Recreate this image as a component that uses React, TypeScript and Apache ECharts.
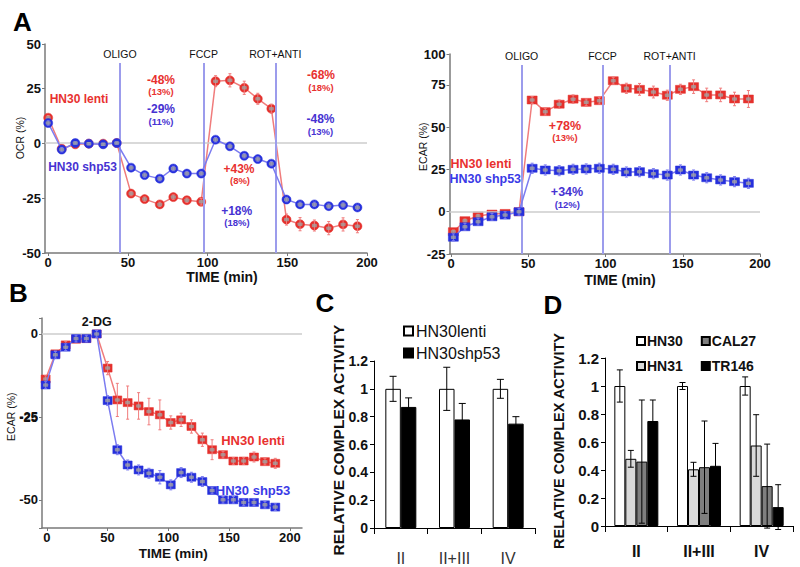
import React, { useEffect, useRef } from "react";
import * as echarts from "echarts";

const FONT = "'Liberation Sans', Arial, Helvetica, sans-serif";
const RED = "#e5302c";
const RED_LINE = "#f07c7c";
const BLUE = "#2630dc";
const BLUE_LINE = "#7c7cf0";
const RED_TXT = "#e8312f";
const BLUE_TXT = "#4632d2";
const INJ_LINE = "#9c9cec";
const ZERO_LINE = "#cdcdcd";
const AXIS_GRAY = "#7a7a7a";

// ---------- Panel A (left): OCR ----------
const ocrTime = [0, 8.5, 17, 25.5, 34.5, 43, 52, 60.5, 70, 78.5, 87, 96, 105, 114, 123, 131.5, 140, 149.5, 158, 167, 176, 185, 194];
const ocrLenti = [11.5, -2.6, -0.6, -0.3, -0.3, 0, -23, -25.5, -27.9, -24.6, -26, -26.7, 28.1, 28.5, 25.1, 20.1, 15.6, -34.8, -36.9, -37.5, -38.7, -37, -37.8];
const ocrLentiErr = [1, 1, 0.5, 0.5, 0.5, 0.5, 1, 1, 1, 1, 1, 1.5, 2.5, 3, 3, 2.5, 2, 2.5, 3, 2.5, 3, 3, 3];
const ocrShp53 = [9.1, -3, 0, -0.3, -0.6, 0, -11.2, -14.6, -16.2, -11.6, -13.9, -13.9, 1.5, -1.5, -5.8, -7.3, -9.4, -25.7, -27.9, -27.9, -28.7, -28.2, -29.3];
const ocrShp53Err = [1, 1, 0.5, 0.5, 0.5, 0.5, 1, 1, 1, 1, 1, 1, 1, 1, 1, 1, 1, 1, 1, 1, 1, 1, 1];
const ocrTickValues = [-50, -25, 0, 25, 45];
const ocrTickLabels = ["-50", "-25", "0", "25", "50"];
const ocrInjectionTimes = [45, 97.5, 142.5];

// ---------- Panel A (right): ECAR ----------
const ecarTime = [1.5, 9, 17.5, 26.5, 35, 44, 52.5, 61, 70, 79, 87.5, 96, 105, 113.5, 122, 131, 140, 148.5, 157, 165.5, 174.5, 183.5, 192.5];
const ecarLenti = [-11.8, -5.3, -2.5, -1.4, -1, 0, 66.1, 59.2, 63.6, 66.6, 64.7, 65.7, 77.5, 73, 72.4, 70.8, 68.9, 72.4, 74, 69.1, 69.1, 66.7, 66.7];
const ecarLentiErr = [1, 1, 1, 1, 1, 1, 2, 2, 2.5, 2.5, 2, 2, 2, 3, 3.5, 3.5, 3, 3, 4, 4, 4, 4, 5];
const ecarShp53 = [-15.1, -8.9, -5.9, -3, -2, 0, 25.7, 24.7, 24.3, 25.1, 25.3, 25.7, 25.1, 23.5, 23.7, 22.5, 21.7, 24.7, 21.7, 20.1, 18.8, 17.8, 16.8];
const ecarShp53Err = [2, 2, 2, 2, 2, 2, 3, 3, 3, 3, 3, 3, 3, 3, 3, 3, 3, 3, 3, 3, 3, 3, 3];
const ecarTickValues = [-25, 0, 25, 50, 75, 93.3];
const ecarTickLabels = ["-25", "0", "25", "50", "75", "100"];
const ecarInjectionTimes = [45.7, 98, 141.5];
const injectionNames = ["OLIGO", "FCCP", "ROT+ANTI"];

// ---------- Panel B: ECAR with 2-DG ----------
const bTime = [-1, 7, 15.5, 24, 32.5, 41, 50, 58, 66.5, 75.5, 84, 93, 102, 110.5, 119, 128, 136, 145, 153.5, 162, 170.5, 179.5, 188];
const bLenti = [-13.6, -6, -3.3, -1.6, -1.4, 0, -10.3, -19.9, -20.7, -21.7, -23.4, -24.4, -26.7, -25.9, -27.9, -31.9, -34.9, -36.4, -38.3, -38.3, -37.1, -38.5, -39];
const bLentiErr = [1, 1, 1, 1, 1, 1, 2, 5, 5, 4, 4, 4.5, 2, 2, 2, 2, 3, 1, 1, 1, 1.5, 1, 1.5];
const bShp53 = [-15.4, -6.3, -4, -1.4, -1.4, 0, -20.1, -34.9, -39.5, -41, -42, -43.2, -45.5, -41.8, -43.2, -44.5, -47.2, -50, -50, -50.8, -50.8, -51.5, -52.2];
const bShp53Err = [1, 1, 1, 1, 1, 1, 1.5, 1.5, 1.5, 1.5, 1.5, 2, 1.5, 1.5, 1.5, 1.5, 1, 1, 1, 1, 1, 1, 1];
const bTickStep = 25;
const bMidTickLabel = "-25";

const timeTicks = [0, 50, 100, 150, 200];

// ---------- Panel C ----------
const complexCategories = ["II", "II+III", "IV"];
const cLenti = [1, 1, 1];
const cLentiErr = [0.09, 0.155, 0.068];
const cShp53 = [0.87, 0.78, 0.75];
const cShp53Err = [0.065, 0.115, 0.05];

// ---------- Panel D ----------
const dHN30 = [1, 1, 1];
const dHN30Err = [0.115, 0.025, 0.065];
const dHN31 = [0.48, 0.405, 0.575];
const dHN31Err = [0.06, 0.05, 0.22];
const dCAL27 = [0.46, 0.42, 0.285];
const dCAL27Err = [0.44, 0.33, 0.3];
const dTR146 = [0.75, 0.43, 0.135];
const dTR146Err = [0.15, 0.16, 0.16];

const pairs = (xs: number[], ys: number[]) => xs.map((x, i) => [x, ys[i]]);
const triples = (xs: number[], ys: number[], es: number[]) => xs.map((x, i) => [x, ys[i], es[i]]);

function errRender(color: string, cap: number, offset = 0) {
  return (_p: any, api: any) => {
    const x = api.value(0);
    const y = api.value(1);
    const e = api.value(2);
    const hi = api.coord([x, y + e]);
    const lo = api.coord([x, y - e]);
    const cx = hi[0] + offset;
    const st = { stroke: color, lineWidth: 1 };
    return {
      type: "group",
      children: [
        { type: "line", shape: { x1: cx, y1: hi[1], x2: cx, y2: lo[1] }, style: st },
        { type: "line", shape: { x1: cx - cap, y1: hi[1], x2: cx + cap, y2: hi[1] }, style: st },
        { type: "line", shape: { x1: cx - cap, y1: lo[1], x2: cx + cap, y2: lo[1] }, style: st },
      ],
    };
  };
}

function timeSeries(
  idx: number, name: string, xs: number[], ys: number[], es: number[],
  symbol: string, size: any, color: string, lineColor: string, z: number
) {
  const data = pairs(xs, ys);
  return [
    {
      type: "line", name, xAxisIndex: idx, yAxisIndex: idx, data, symbol, symbolSize: size,
      showSymbol: true, silent: true, z,
      itemStyle: { color, borderColor: color, borderWidth: 0.5 },
      lineStyle: { color: lineColor, width: 1.5 },
    },
    {
      type: "custom", xAxisIndex: idx, yAxisIndex: idx, data: triples(xs, ys, es), silent: true,
      renderItem: errRender(lineColor, 1.5), z: z + 1,
    },
    {
      type: "scatter", xAxisIndex: idx, yAxisIndex: idx, data, silent: true,
      symbol: "roundRect", symbolSize: [5, 3.5], itemStyle: { color: "#a3a3a3" }, z: z + 2,
    },
  ];
}

function guideSeries(idx: number, xs: number[], ys: number[], inj: number[], yLo: number, yHi: number) {
  const injLines = inj.map((t, i) => [
    {
      coord: [t, yLo],
      lineStyle: { color: INJ_LINE, width: 2, type: "solid" },
      label: {
        show: true, position: "end", distance: 3, formatter: injectionNames[i],
        fontSize: 10.5, fontFamily: FONT, color: "#111",
      },
    },
    { coord: [t, yHi] },
  ]);
  return {
    type: "line", xAxisIndex: idx, yAxisIndex: idx, data: pairs(xs, ys), symbol: "none",
    lineStyle: { opacity: 0 }, silent: true, z: 1,
    markLine: {
      silent: true, symbol: ["none", "none"], animation: false,
      label: { show: false },
      lineStyle: { color: ZERO_LINE, width: 1.5, type: "solid" },
      data: [{ yAxis: 0 }, ...injLines],
    },
  };
}

const tickFont = { fontSize: 13, fontWeight: "bold", fontFamily: FONT, color: "#111" };

function timeAxis(idx: number, min: number, max: number) {
  return {
    type: "value", gridIndex: idx, min, max,
    axisLine: { show: true, onZero: false, lineStyle: { color: AXIS_GRAY, width: 1.5 } },
    axisTick: { show: true, customValues: timeTicks, length: 3, lineStyle: { color: AXIS_GRAY } },
    axisLabel: { ...tickFont, customValues: timeTicks, margin: 3 },
    splitLine: { show: false },
  };
}

function valueAxis(idx: number, min: number, max: number, vals: number[], labels: string[]) {
  return {
    type: "value", gridIndex: idx, min, max,
    axisLine: { show: true, onZero: false, lineStyle: { color: AXIS_GRAY, width: 1.5 } },
    axisTick: { show: true, customValues: vals, length: 3, lineStyle: { color: AXIS_GRAY } },
    axisLabel: {
      ...tickFont, customValues: vals, margin: 4,
      formatter: (v: number) => {
        const k = vals.findIndex((t) => Math.abs(t - v) < 1e-6);
        return k >= 0 ? labels[k] : "";
      },
    },
    splitLine: { show: false },
  };
}

function stepAxis(idx: number, min: number, max: number, step: number) {
  return {
    type: "value", gridIndex: idx, min, max, minInterval: step, maxInterval: step,
    axisLine: { show: true, onZero: false, lineStyle: { color: AXIS_GRAY, width: 1.5 } },
    axisTick: { show: true, length: 3, lineStyle: { color: AXIS_GRAY } },
    axisLabel: {
      ...tickFont, margin: 4, showMinLabel: true, showMaxLabel: true,
      formatter: (v: number) => (Math.abs(v / step - Math.round(v / step)) < 1e-6 ? String(Math.round(v)) : ""),
    },
    splitLine: { show: false },
  };
}

function barValueAxis(idx: number, fontSize: number) {
  return {
    type: "value", gridIndex: idx, min: 0, max: 1.2, interval: 0.2,
    axisLine: { show: true, lineStyle: { color: "#000", width: 1 } },
    axisTick: { show: true, length: 4, lineStyle: { color: "#000" } },
    axisLabel: { fontSize, fontWeight: "bold", fontFamily: FONT, color: "#111", margin: 6 },
    splitLine: { show: false },
  };
}

function barCatAxis(idx: number, fontSize: number, weight: string, color: string, margin: number) {
  return {
    type: "category", gridIndex: idx, data: complexCategories,
    axisLine: { show: true, lineStyle: { color: "#000", width: 1 } },
    axisTick: { show: true, length: 6, alignWithLabel: false, lineStyle: { color: "#000" } },
    axisLabel: { fontSize, fontWeight: weight, fontFamily: FONT, color, margin },
  };
}

function barSeries(idx: number, name: string, vals: number[], errs: number[], width: number, offset: number, fill: string, cap: number) {
  return [
    {
      type: "bar", name, xAxisIndex: idx, yAxisIndex: idx, data: vals, barWidth: width, barGap: "0%",
      silent: true, itemStyle: { color: fill, borderColor: "#000", borderWidth: 1 }, z: 2,
    },
    {
      type: "custom", xAxisIndex: idx, yAxisIndex: idx, silent: true, clip: false, z: 5,
      data: complexCategories.map((_, i) => [i, vals[i], errs[i]]),
      renderItem: errRender("#000", cap, offset),
    },
  ];
}

function txt(x: number, y: number, text: string, size: number, weight: string, color: string, rotate = false, align = "center") {
  return {
    type: "text", x, y, rotation: rotate ? Math.PI / 2 : 0, silent: true, z: 100,
    style: { text, fontSize: size, fontWeight: weight, fontFamily: FONT, fill: color, align, verticalAlign: "middle" },
  };
}

export default function App() {
  const ref = useRef<HTMLDivElement>(null);
  useEffect(() => {
    if (!ref.current) return;
    const chart = echarts.init(ref.current, null, { renderer: "svg" });
    const option: any = {
      animation: false,
      backgroundColor: "#ffffff",
      textStyle: { fontFamily: FONT },
      grid: [
        { left: 45, top: 44, width: 322, height: 209 },
        { left: 449.5, top: 54, width: 310.5, height: 200 },
        { left: 42, top: 318, width: 260, height: 210 },
        { left: 374, top: 361, width: 161, height: 167 },
        { left: 605, top: 358, width: 188, height: 168 },
      ],
      xAxis: [
        timeAxis(0, -2, 200),
        timeAxis(1, -1, 200),
        timeAxis(2, -4, 210),
        barCatAxis(3, 16, "normal", "#333", 22),
        barCatAxis(4, 16, "bold", "#111", 17),
      ],
      yAxis: [
        valueAxis(0, -50, 45, ocrTickValues, ocrTickLabels),
        valueAxis(1, -25, 93.3, ecarTickValues, ecarTickLabels),
        stepAxis(2, -58.5, 4.8, bTickStep),
        barValueAxis(3, 14),
        barValueAxis(4, 15),
      ],
      legend: [
        {
          data: ["HN30lenti", "HN30shp53"], orient: "vertical", left: 403, top: 323, padding: 0,
          itemWidth: 9, itemHeight: 9, itemGap: 6, icon: "rect", selectedMode: false,
          textStyle: { fontSize: 16, fontFamily: FONT, color: "#111", padding: [0, 0, 0, -2] },
        },
        {
          data: ["HN30", "CAL27"], orient: "horizontal", left: 636, top: 334, padding: 0,
          itemWidth: 8, itemHeight: 8, itemGap: 18, icon: "rect", selectedMode: false,
          textStyle: { fontSize: 14, fontWeight: "bold", fontFamily: FONT, color: "#111", padding: [0, 0, 0, -3] },
        },
        {
          data: ["HN31", "TR146"], orient: "horizontal", left: 636, top: 359, padding: 0,
          itemWidth: 8, itemHeight: 8, itemGap: 18, icon: "rect", selectedMode: false,
          textStyle: { fontSize: 14, fontWeight: "bold", fontFamily: FONT, color: "#111", padding: [0, 0, 0, -3] },
        },
      ],
      series: [
        guideSeries(0, ocrTime, ocrLenti, ocrInjectionTimes, -50, 36.4),
        ...timeSeries(0, "HN30 lenti", ocrTime, ocrLenti, ocrLentiErr, "circle", 9, RED, RED_LINE, 3),
        ...timeSeries(0, "HN30 shp53", ocrTime, ocrShp53, ocrShp53Err, "circle", 9, BLUE, BLUE_LINE, 7),
        guideSeries(1, ecarTime, ecarLenti, ecarInjectionTimes, -25, 86.8),
        ...timeSeries(1, "HN30 lenti", ecarTime, ecarLenti, ecarLentiErr, "rect", [10, 8], RED, RED_LINE, 3),
        ...timeSeries(1, "HN30 shp53", ecarTime, ecarShp53, ecarShp53Err, "rect", [10, 8], BLUE, BLUE_LINE, 7),
        guideSeries(2, bTime, bLenti, [], -58.5, 0),
        ...timeSeries(2, "HN30 lenti", bTime, bLenti, bLentiErr, "rect", [9, 8], RED, RED_LINE, 3),
        ...timeSeries(2, "HN30 shp53", bTime, bShp53, bShp53Err, "rect", [9, 8], BLUE, BLUE_LINE, 7),
        ...barSeries(3, "HN30lenti", cLenti, cLentiErr, 15.5, -7.75, "#ffffff", 3.5),
        ...barSeries(3, "HN30shp53", cShp53, cShp53Err, 15.5, 7.75, "#000000", 3.5),
        ...barSeries(4, "HN30", dHN30, dHN30Err, 11, -16.5, "#ffffff", 3),
        ...barSeries(4, "HN31", dHN31, dHN31Err, 11, -5.5, "#d9d9d9", 3),
        ...barSeries(4, "CAL27", dCAL27, dCAL27Err, 11, 5.5, "#7f7f7f", 3),
        ...barSeries(4, "TR146", dTR146, dTR146Err, 11, 16.5, "#000000", 3),
      ],
      graphic: [
        // Panel A left
        txt(22.5, 21.7, "A", 26, "bold", "#000"),
        txt(20, 138, "OCR (%)", 10.5, "normal", "#111", true),
        txt(222, 277, "TIME (min)", 14, "bold", "#111"),
        txt(79, 99, "HN30 lenti", 12, "bold", RED_TXT),
        txt(82.5, 166.7, "HN30 shp53", 12, "bold", BLUE_TXT),
        txt(161, 79.5, "-48%", 12, "bold", RED_TXT),
        txt(161, 91.5, "(13%)", 9.5, "bold", RED_TXT),
        txt(161, 109, "-29%", 12, "bold", BLUE_TXT),
        txt(161, 121, "(11%)", 9.5, "bold", BLUE_TXT),
        txt(239, 168.5, "+43%", 12, "bold", RED_TXT),
        txt(240, 180.5, "(8%)", 9.5, "bold", RED_TXT),
        txt(236.7, 210.5, "+18%", 12, "bold", BLUE_TXT),
        txt(237, 222.5, "(18%)", 9.5, "bold", BLUE_TXT),
        txt(321, 74.5, "-68%", 12, "bold", RED_TXT),
        txt(321, 87.5, "(18%)", 9.5, "bold", RED_TXT),
        txt(320.5, 118.8, "-48%", 12, "bold", BLUE_TXT),
        txt(320.5, 131, "(13%)", 9.5, "bold", BLUE_TXT),
        // Panel A right
        txt(423.3, 146.7, "ECAR (%)", 10.5, "normal", "#111", true),
        txt(620, 280, "TIME (min)", 14, "bold", "#111"),
        txt(481, 164.3, "HN30 lenti", 12.5, "bold", RED_TXT),
        txt(485.3, 179, "HN30 shp53", 12.5, "bold", "#3a3ae6"),
        txt(565, 125.5, "+78%", 12.5, "bold", RED_TXT),
        txt(565, 137.5, "(13%)", 9.5, "bold", RED_TXT),
        txt(567, 192, "+34%", 12.5, "bold", BLUE_TXT),
        txt(567.3, 204, "(12%)", 9.5, "bold", BLUE_TXT),
        // Panel B
        txt(18.3, 293.3, "B", 26, "bold", "#000"),
        txt(11, 416.7, "ECAR (%)", 10.5, "normal", "#111", true),
        txt(38, 417, bMidTickLabel, 13, "bold", "#111", false, "right"),
        txt(173.3, 553, "TIME (min)", 13.5, "bold", "#111"),
        txt(96.7, 321.7, "2-DG", 12.5, "bold", "#111"),
        txt(253, 440, "HN30 lenti", 13, "bold", RED_TXT),
        txt(253, 490.7, "HN30 shp53", 13, "bold", "#3a3ae6"),
        // Panel C
        txt(325, 303.3, "C", 26, "bold", "#000"),
        txt(338, 440, "RELATIVE COMPLEX ACTIVITY", 15.5, "bold", "#111", true),
        // Panel D
        txt(553, 305, "D", 26, "bold", "#000"),
        txt(559.3, 441, "RELATIVE COMPLEX ACTIVITY", 14.5, "bold", "#111", true),
      ],
    };
    chart.setOption(option);
    return () => chart.dispose();
  }, []);
  return (
    <div
      ref={ref}
      style={{ position: "absolute", left: 0, top: 0, width: 800, height: 567, background: "#fff" }}
    />
  );
}
